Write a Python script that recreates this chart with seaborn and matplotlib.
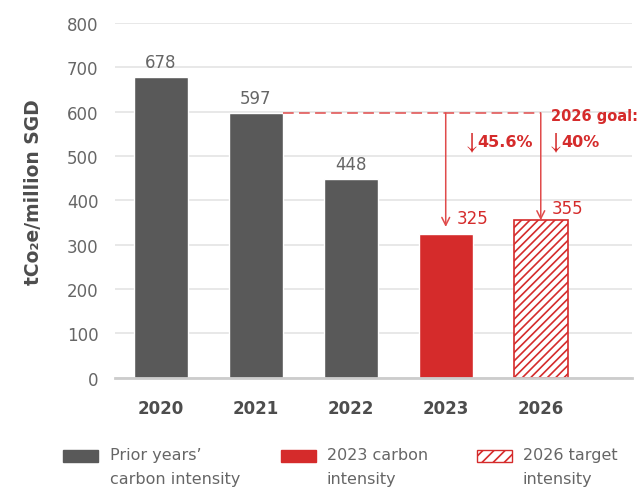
import matplotlib
matplotlib.use("Agg")
import matplotlib.pyplot as plt
from matplotlib.patches import Rectangle
import seaborn as sns
import pandas as pd

# ---- data ----
years = ["2020", "2021", "2022", "2023", "2026"]
values = [678, 597, 448, 325, 355]
kinds = ["prior", "prior", "prior", "current", "target"]
legend_labels = ["Prior years\u2019\ncarbon intensity", "2023 carbon\nintensity", "2026 target\nintensity"]
y_ticks = [0, 100, 200, 300, 400, 500, 600, 700, 800]
goal_text = "2026 goal:"
drop_2023 = "45.6%"
drop_goal = "40%"
down_arrow = r"$\downarrow$"

GRAY = "#595959"
RED = "#D52B2B"
LRED = "#E04B4B"
TXT = "#666666"
DARK = "#4d4d4d"

sns.set_theme(style="white")
plt.rcParams["font.family"] = ["DejaVu Sans"]
plt.rcParams["hatch.linewidth"] = 1.2

fig = plt.figure(figsize=(6.4, 4.89), dpi=100)
ax = fig.add_axes([115 / 640, 1 - 378.7 / 489, 517 / 640, 354.8 / 489])

df = pd.DataFrame({"year": years, "value": values, "kind": kinds})
palette = {"prior": GRAY, "current": RED, "target": "white"}
sns.barplot(data=df, x="year", y="value", hue="kind", palette=palette,
            dodge=False, width=0.57, legend=False, saturation=1, ax=ax)

for p in ax.patches:
    cx = p.get_x() + p.get_width() / 2
    if abs(cx - years.index("2026")) < 0.01:
        p.set_facecolor("white")
        p.set_edgecolor(RED)
        p.set_hatch("////")
        p.set_linewidth(1.2)

ax.set_ylim(0, 800)
ax.set_xlim(-0.48, 4.96)
ax.set_yticks(y_ticks)
ax.set_yticklabels([str(t) for t in y_ticks])
ax.yaxis.grid(True, color="#e6e6e6", lw=1.3)
ax.set_axisbelow(True)
for s in ["top", "right", "left"]:
    ax.spines[s].set_visible(False)
ax.spines["bottom"].set_color("#cccccc")
ax.spines["bottom"].set_linewidth(2)
ax.tick_params(axis="y", length=0, pad=12, labelsize=12, labelcolor=TXT)
ax.tick_params(axis="x", length=0, pad=15, labelsize=12, labelcolor=DARK)
for lab in ax.get_xticklabels():
    lab.set_fontweight("bold")
ax.set_xlabel("")
ax.set_ylabel("tCo\u2082e/million SGD", fontsize=13.5, fontweight="bold", color=DARK)
ax.yaxis.set_label_coords(-0.139, 0.527)

# value labels
for i, v in enumerate(values):
    if kinds[i] == "prior":
        ax.annotate(str(v), xy=(i, v), xytext=(0, 4), textcoords="offset points",
                    ha="center", va="bottom", fontsize=12, color=TXT)
i23 = years.index("2023")
i26 = years.index("2026")
ax.annotate(str(values[i23]), xy=(i23, values[i23]), xytext=(8, 11), textcoords="offset points",
            ha="left", va="center", fontsize=12, color=RED)
ax.annotate(str(values[i26]), xy=(i26, values[i26]), xytext=(8, 9), textcoords="offset points",
            ha="left", va="center", fontsize=12, color=RED)

# goal annotations
base = values[1]
ax.plot([1 + 0.285, i26], [base, base], color=LRED, lw=1.1, dashes=(7, 3.5))
ax.annotate("", xy=(i23, 340), xytext=(i23, base),
            arrowprops=dict(arrowstyle="->", color=LRED, lw=1.1, shrinkA=0, shrinkB=0,
                            mutation_scale=14))
ax.annotate("", xy=(i26, values[i26]), xytext=(i26, base),
            arrowprops=dict(arrowstyle="->", color=LRED, lw=1.1, shrinkA=0, shrinkB=0,
                            mutation_scale=14))
for xi, label in [(i23 + 0.17, drop_2023), (i26 + 0.06, drop_goal)]:
    ax.annotate(down_arrow, xy=(xi, 532), xytext=(0, 0), textcoords="offset points",
                ha="left", va="center", fontsize=17, color=RED, math_fontfamily="stix")
    ax.annotate(label, xy=(xi, 532), xytext=(11, 0), textcoords="offset points",
                ha="left", va="center", fontsize=11.5, fontweight="bold", color=RED)
ax.text(i26 + 0.11, 592, goal_text, ha="left", va="center", fontsize=10.5,
        fontweight="bold", color=RED)

# legend (manual)
W, H = 640, 489
handles = [
    dict(x=63, fc=GRAY, ec=GRAY, hatch=None),
    dict(x=281, fc=RED, ec=RED, hatch=None),
    dict(x=477, fc="white", ec=RED, hatch="///"),
]
text_x = [110, 327, 523]
for h, lab, tx in zip(handles, legend_labels, text_x):
    r = Rectangle((h["x"] / W, 1 - 463 / H), 35 / W, 12 / H, transform=fig.transFigure,
                  facecolor=h["fc"], edgecolor=h["ec"], hatch=h["hatch"], lw=1)
    fig.add_artist(r)
    fig.text(tx / W, 1 - 448 / H, lab, ha="left", va="top", fontsize=11.5,
             color=TXT, linespacing=1.75)

fig.savefig("out.png", dpi=100)
